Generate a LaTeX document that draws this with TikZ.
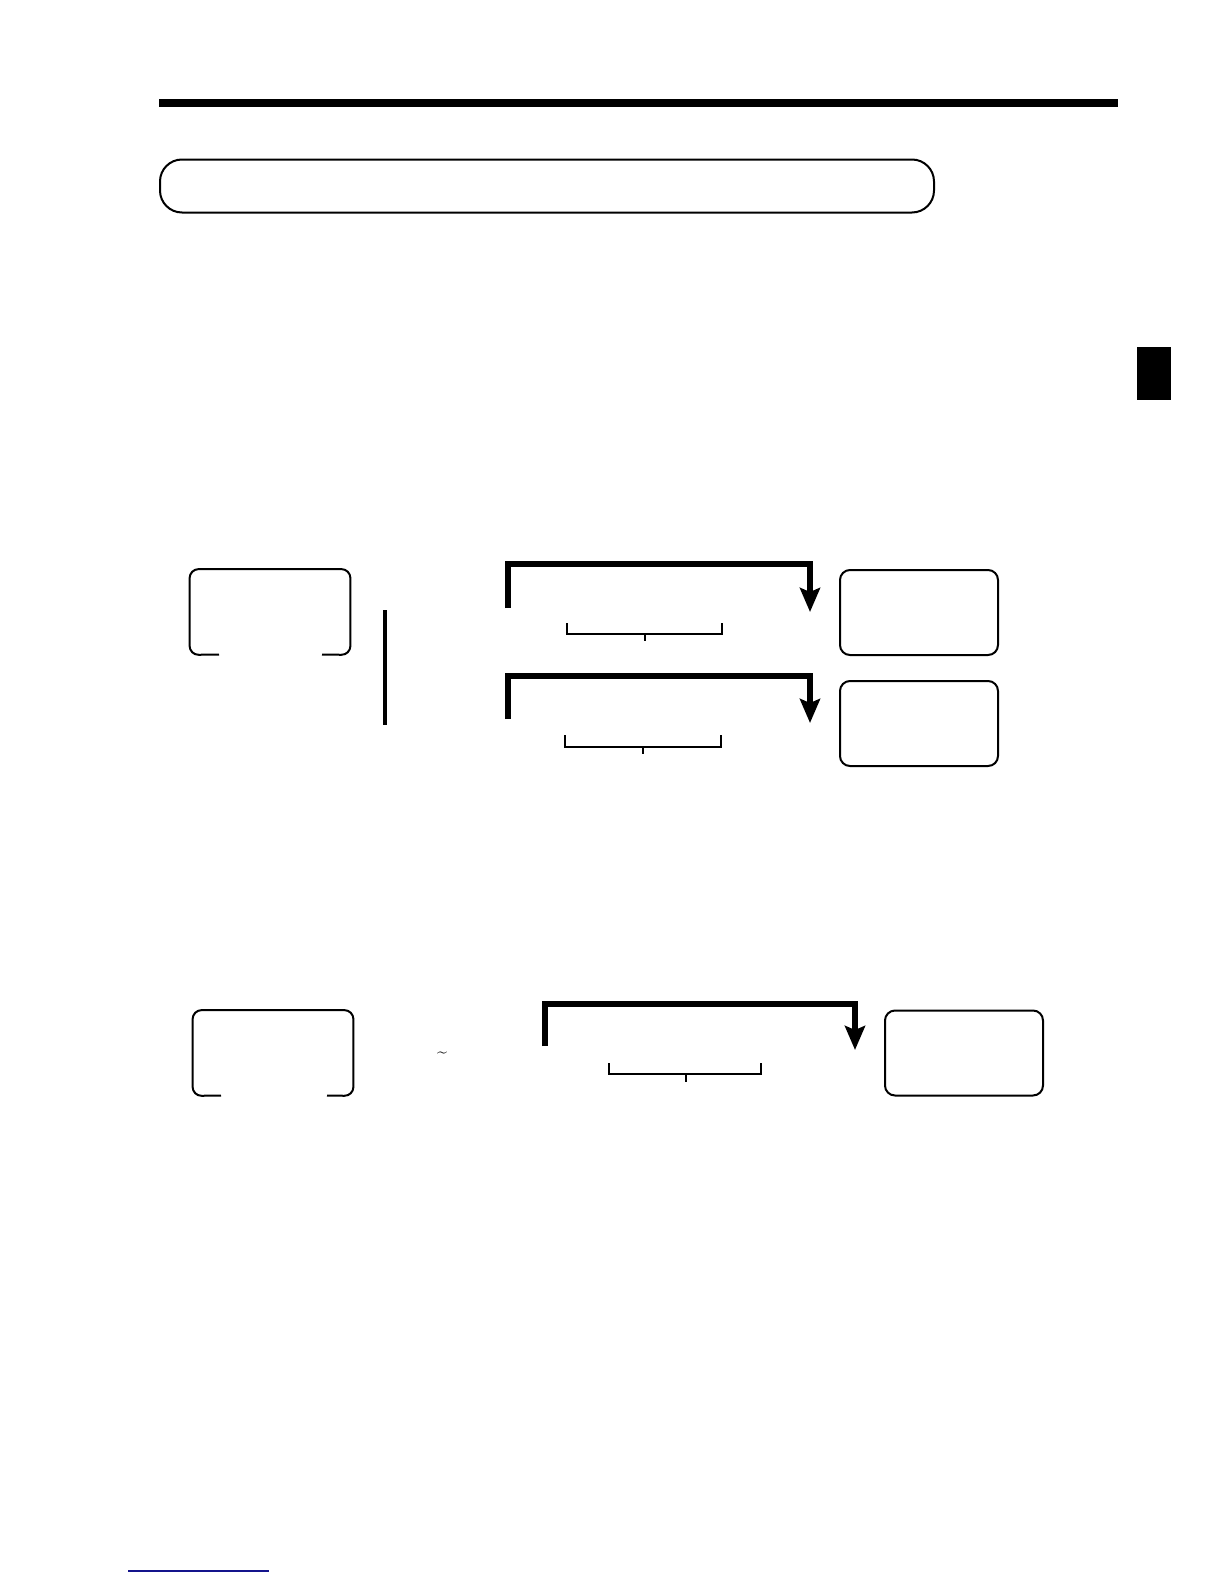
\documentclass[tikz,border=0pt]{standalone}
\usetikzlibrary{arrows.meta}
\definecolor{linkblue}{RGB}{20,20,140}
\begin{document}
\begin{tikzpicture}[x=0.5pt,y=-0.5pt,
  keybox/.style={draw=none,minimum width=80pt,minimum height=42.5pt,inner sep=0pt},
  dispbox/.style={draw,line width=1pt,rounded corners=5pt,minimum width=79pt,minimum height=42.5pt,inner sep=0pt},
  flow/.style={line width=2.6pt,-{Stealth[width=10pt,length=12pt,inset=2pt]}},
  brace/.style={line width=1pt},
  gapbox/.style={line width=1pt,rounded corners=4.5pt}]
\useasboundingbox (0,0) rectangle (1224,1584);
% top bar
\fill (159,99) rectangle (1118,107);
% title box
\node[draw,line width=1pt,rounded corners=11pt,minimum width=387pt,minimum height=26.5pt,inner sep=0pt] (title) at (547,186) {};
% tab
\fill (1137,347) rectangle (1171,400);
% ---------- first diagram ----------
\node[keybox] (k1) at (270,612) {};
\draw[gapbox] (219,654.5) -- (k1.south west) -- (k1.north west) -- (k1.north east) -- (k1.south east) -- (322,654.5);
\coordinate (vt) at (385,610);
\coordinate (vb) at (385,725);
\draw[line width=1.6pt] (vt) -- (vb);
% arrow 1
\coordinate (a1s) at (508,608);
\coordinate (a1e) at (810,612);
\draw[flow] (a1s) |- (810,564) -- (a1e);
\coordinate (b1l) at (567,623);
\coordinate (b1r) at (722,623);
\draw[brace] (b1l) -- (567,634) -- (722,634) -- (b1r);
\draw[brace] (644.5,634) -- (644.5,641);
\node[dispbox] (d1) at (919,612.5) {};
% arrow 2
\coordinate (a2s) at (508,719);
\coordinate (a2e) at (810,723);
\draw[flow] (a2s) |- (810,676) -- (a2e);
\coordinate (b2l) at (565,735);
\coordinate (b2r) at (721,735);
\draw[brace] (b2l) -- (565,747) -- (721,747) -- (b2r);
\draw[brace] (643,747) -- (643,754);
\node[dispbox] (d2) at (919,723.5) {};
% ---------- second diagram ----------
\node[keybox] (k2) at (273,1053) {};
\draw[gapbox] (221,1095.5) -- (k2.south west) -- (k2.north west) -- (k2.north east) -- (k2.south east) -- (327,1095.5);
\node[inner sep=0pt,font=\small] (tl) at (442,1055) {\textasciitilde};
\coordinate (a3s) at (545,1046);
\coordinate (a3e) at (855,1050);
\draw[flow] (a3s) |- (855,1004) -- (a3e);
\coordinate (b3l) at (609,1063);
\coordinate (b3r) at (761,1063);
\draw[brace] (b3l) -- (609,1074) -- (761,1074) -- (b3r);
\draw[brace] (686,1074) -- (686,1082);
\node[dispbox] (d3) at (964,1053) {};
% bottom blue line
\coordinate (ll) at (128,1571);
\coordinate (lr) at (269,1571);
\draw[linkblue,line width=1pt] (ll) -- (lr);
\end{tikzpicture}
\end{document}
